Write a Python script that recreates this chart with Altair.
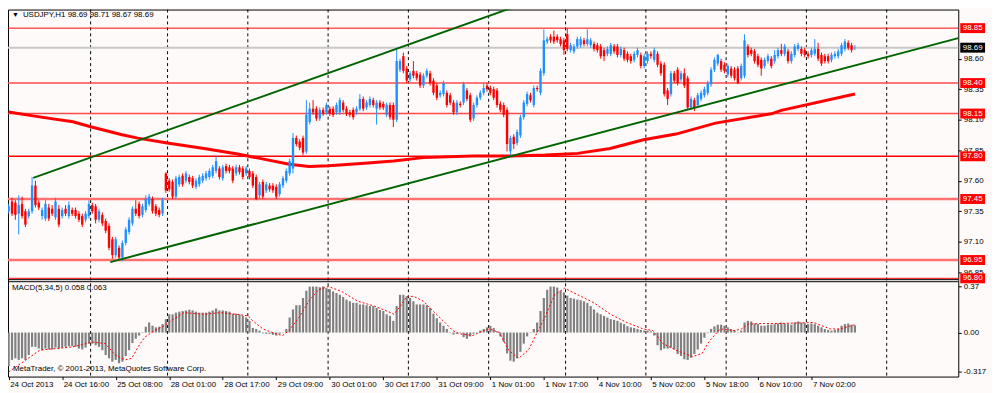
import altair as alt
import pandas as pd

# ---------------- data ----------------
OPEN = [
    97.35, 97.43, 97.42, 97.33, 97.41, 97.35, 97.31, 97.35, 97.56, 97.42,
    97.31, 97.29, 97.38, 97.37, 97.30, 97.37, 97.31, 97.37, 97.31, 97.36,
    97.36, 97.33, 97.31, 97.28, 97.31, 97.40, 97.39, 97.28, 97.32, 97.27,
    97.23, 97.12, 96.99, 97.05, 96.97, 97.09, 97.18, 97.25, 97.37, 97.41,
    97.32, 97.36, 97.41, 97.45, 97.39, 97.36, 97.33, 97.66, 97.60, 97.59,
    97.47, 97.57, 97.64, 97.60, 97.63, 97.62, 97.55, 97.57, 97.60, 97.62,
    97.63, 97.64, 97.68, 97.70, 97.62, 97.72, 97.71, 97.70, 97.66, 97.71,
    97.70, 97.66, 97.68, 97.66, 97.63, 97.48, 97.59, 97.52, 97.56, 97.56,
    97.55, 97.49, 97.56, 97.60, 97.66, 97.70, 97.95, 97.92, 97.95, 97.84,
    98.08, 98.19, 98.19, 98.11, 98.18, 98.16, 98.19, 98.19, 98.16, 98.16,
    98.24, 98.19, 98.16, 98.18, 98.16, 98.19, 98.27, 98.20, 98.22, 98.26,
    98.19, 98.24, 98.23, 98.14, 98.22, 98.22, 98.10, 98.51, 98.62, 98.52,
    98.43, 98.50, 98.48, 98.47, 98.38, 98.46, 98.48, 98.42, 98.38, 98.30,
    98.31, 98.32, 98.30, 98.24, 98.16, 98.23, 98.24, 98.34, 98.30, 98.11,
    98.22, 98.28, 98.32, 98.38, 98.36, 98.35, 98.34, 98.23, 98.22, 98.18,
    97.84, 97.96, 97.91, 97.97, 98.12, 98.23, 98.30, 98.22, 98.36, 98.32,
    98.48, 98.74, 98.78, 98.78, 98.78, 98.76, 98.75, 98.80, 98.67, 98.66,
    98.70, 98.71, 98.75, 98.72, 98.71, 98.72, 98.71, 98.70, 98.67, 98.64,
    98.64, 98.70, 98.70, 98.63, 98.67, 98.64, 98.62, 98.59, 98.63, 98.63,
    98.54, 98.58, 98.64, 98.59, 98.64, 98.56, 98.55, 98.34, 98.31, 98.48,
    98.51, 98.43, 98.48, 98.44, 98.20, 98.26, 98.22, 98.27, 98.30, 98.32,
    98.39, 98.51, 98.56, 98.58, 98.55, 98.47, 98.52, 98.51, 98.52, 98.44,
    98.46, 98.70, 98.67, 98.66, 98.62, 98.59, 98.54, 98.58, 98.60, 98.58,
    98.62, 98.67, 98.64, 98.66, 98.58, 98.63, 98.68, 98.68, 98.67, 98.64,
    98.63, 98.64, 98.68, 98.63, 98.62, 98.62, 98.59, 98.62, 98.62, 98.64,
    98.68, 98.73, 98.71, 98.69,
]
HIGH = [
    97.41, 97.46, 97.44, 97.48, 97.47, 97.37, 97.37, 97.63, 97.60, 97.44,
    97.38, 97.44, 97.41, 97.40, 97.46, 97.40, 97.38, 97.40, 97.43, 97.38,
    97.38, 97.35, 97.33, 97.35, 97.44, 97.42, 97.41, 97.37, 97.34, 97.29,
    97.25, 97.14, 97.14, 97.07, 97.11, 97.22, 97.30, 97.39, 97.44, 97.43,
    97.41, 97.48, 97.49, 97.47, 97.41, 97.38, 97.46, 97.67, 97.62, 97.61,
    97.64, 97.65, 97.66, 97.68, 97.65, 97.64, 97.62, 97.65, 97.66, 97.68,
    97.70, 97.73, 97.80, 97.72, 97.73, 97.74, 97.73, 97.72, 97.73, 97.73,
    97.72, 97.72, 97.70, 97.68, 97.65, 97.59, 97.61, 97.59, 97.58, 97.58,
    97.57, 97.59, 97.64, 97.70, 97.78, 97.99, 97.97, 97.94, 97.97, 98.26,
    98.24, 98.26, 98.21, 98.20, 98.20, 98.24, 98.21, 98.21, 98.24, 98.28,
    98.26, 98.21, 98.18, 98.20, 98.21, 98.31, 98.29, 98.26, 98.29, 98.28,
    98.26, 98.26, 98.25, 98.24, 98.24, 98.24, 98.69, 98.60, 98.65, 98.54,
    98.50, 98.58, 98.50, 98.49, 98.48, 98.52, 98.50, 98.44, 98.40, 98.34,
    98.42, 98.34, 98.32, 98.26, 98.26, 98.25, 98.41, 98.36, 98.32, 98.24,
    98.30, 98.34, 98.40, 98.40, 98.38, 98.37, 98.36, 98.25, 98.24, 98.20,
    97.97, 97.98, 98.02, 98.14, 98.26, 98.33, 98.32, 98.38, 98.38, 98.52,
    98.84, 98.78, 98.80, 98.83, 98.80, 98.78, 98.77, 98.85, 98.73, 98.72,
    98.78, 98.78, 98.77, 98.84, 98.77, 98.74, 98.73, 98.72, 98.69, 98.70,
    98.73, 98.72, 98.72, 98.70, 98.69, 98.66, 98.64, 98.66, 98.69, 98.65,
    98.64, 98.66, 98.66, 98.69, 98.66, 98.58, 98.57, 98.36, 98.50, 98.50,
    98.53, 98.50, 98.52, 98.46, 98.29, 98.28, 98.32, 98.34, 98.37, 98.42,
    98.53, 98.61, 98.64, 98.60, 98.57, 98.56, 98.54, 98.53, 98.54, 98.56,
    98.80, 98.72, 98.69, 98.68, 98.64, 98.61, 98.61, 98.64, 98.62, 98.67,
    98.69, 98.72, 98.72, 98.68, 98.66, 98.72, 98.73, 98.70, 98.69, 98.66,
    98.69, 98.76, 98.73, 98.65, 98.64, 98.64, 98.65, 98.66, 98.68, 98.73,
    98.76, 98.75, 98.73, 98.71,
]
LOW = [
    97.33, 97.31, 97.28, 97.16, 97.29, 97.22, 97.29, 97.33, 97.38, 97.36,
    97.28, 97.27, 97.27, 97.31, 97.28, 97.22, 97.29, 97.31, 97.29, 97.31,
    97.29, 97.26, 97.22, 97.26, 97.29, 97.33, 97.25, 97.26, 97.23, 97.17,
    97.03, 96.96, 96.97, 96.95, 96.94, 97.07, 97.16, 97.23, 97.31, 97.29,
    97.30, 97.34, 97.39, 97.33, 97.31, 97.30, 97.31, 97.50, 97.51, 97.45,
    97.45, 97.55, 97.55, 97.58, 97.57, 97.54, 97.53, 97.55, 97.58, 97.60,
    97.61, 97.62, 97.66, 97.61, 97.60, 97.66, 97.66, 97.58, 97.64, 97.65,
    97.61, 97.64, 97.61, 97.54, 97.44, 97.45, 97.45, 97.50, 97.51, 97.50,
    97.45, 97.47, 97.54, 97.58, 97.64, 97.66, 97.88, 97.85, 97.81, 97.82,
    98.06, 98.14, 98.09, 98.09, 98.13, 98.14, 98.13, 98.12, 98.14, 98.14,
    98.16, 98.13, 98.12, 98.10, 98.14, 98.17, 98.17, 98.18, 98.20, 98.20,
    98.06, 98.18, 98.18, 98.12, 98.10, 98.04, 98.08, 98.49, 98.48, 98.40,
    98.41, 98.44, 98.42, 98.36, 98.36, 98.44, 98.38, 98.30, 98.26, 98.28,
    98.29, 98.20, 98.22, 98.14, 98.14, 98.20, 98.22, 98.25, 98.08, 98.09,
    98.20, 98.26, 98.30, 98.33, 98.30, 98.26, 98.20, 98.16, 98.12, 97.84,
    97.80, 97.86, 97.89, 97.95, 98.10, 98.21, 98.24, 98.20, 98.33, 98.30,
    98.46, 98.72, 98.73, 98.72, 98.73, 98.70, 98.63, 98.66, 98.65, 98.64,
    98.68, 98.69, 98.70, 98.70, 98.69, 98.66, 98.65, 98.60, 98.58, 98.62,
    98.62, 98.64, 98.61, 98.61, 98.58, 98.57, 98.56, 98.57, 98.61, 98.52,
    98.52, 98.56, 98.60, 98.57, 98.53, 98.46, 98.29, 98.22, 98.29, 98.40,
    98.38, 98.41, 98.36, 98.18, 98.18, 98.17, 98.20, 98.25, 98.28, 98.30,
    98.37, 98.49, 98.54, 98.49, 98.48, 98.45, 98.44, 98.42, 98.39, 98.42,
    98.44, 98.61, 98.62, 98.56, 98.53, 98.46, 98.52, 98.56, 98.52, 98.56,
    98.60, 98.62, 98.62, 98.56, 98.56, 98.61, 98.66, 98.62, 98.61, 98.60,
    98.61, 98.62, 98.58, 98.54, 98.56, 98.56, 98.57, 98.60, 98.60, 98.62,
    98.66, 98.67, 98.65, 98.67,
]
CLOSE = [
    97.39, 97.33, 97.32, 97.40, 97.31, 97.24, 97.35, 97.56, 97.40, 97.38,
    97.36, 97.41, 97.29, 97.33, 97.43, 97.24, 97.36, 97.33, 97.40, 97.33,
    97.31, 97.28, 97.24, 97.33, 97.41, 97.35, 97.28, 97.35, 97.25, 97.19,
    97.05, 96.99, 97.12, 96.97, 97.09, 97.20, 97.28, 97.37, 97.33, 97.31,
    97.39, 97.45, 97.47, 97.35, 97.33, 97.32, 97.44, 97.52, 97.53, 97.47,
    97.62, 97.63, 97.57, 97.66, 97.59, 97.56, 97.60, 97.63, 97.64, 97.66,
    97.68, 97.71, 97.76, 97.63, 97.71, 97.68, 97.68, 97.60, 97.71, 97.67,
    97.63, 97.70, 97.63, 97.56, 97.45, 97.57, 97.47, 97.57, 97.53, 97.52,
    97.47, 97.57, 97.62, 97.68, 97.76, 97.95, 97.90, 97.87, 97.83, 98.14,
    98.19, 98.16, 98.11, 98.18, 98.15, 98.22, 98.15, 98.14, 98.22, 98.26,
    98.18, 98.15, 98.14, 98.12, 98.19, 98.27, 98.19, 98.24, 98.27, 98.22,
    98.24, 98.20, 98.20, 98.22, 98.12, 98.10, 98.58, 98.58, 98.50, 98.42,
    98.48, 98.46, 98.44, 98.38, 98.46, 98.50, 98.40, 98.32, 98.28, 98.32,
    98.40, 98.22, 98.24, 98.16, 98.24, 98.22, 98.39, 98.27, 98.10, 98.22,
    98.28, 98.32, 98.36, 98.35, 98.32, 98.28, 98.22, 98.18, 98.14, 97.90,
    97.95, 97.90, 98.00, 98.12, 98.24, 98.31, 98.26, 98.36, 98.35, 98.50,
    98.75, 98.76, 98.75, 98.74, 98.75, 98.72, 98.67, 98.68, 98.71, 98.70,
    98.76, 98.76, 98.72, 98.76, 98.75, 98.68, 98.67, 98.62, 98.62, 98.68,
    98.71, 98.66, 98.63, 98.68, 98.60, 98.59, 98.58, 98.64, 98.67, 98.54,
    98.62, 98.64, 98.62, 98.67, 98.55, 98.48, 98.31, 98.27, 98.48, 98.42,
    98.40, 98.48, 98.38, 98.20, 98.27, 98.20, 98.30, 98.32, 98.35, 98.40,
    98.51, 98.59, 98.63, 98.51, 98.50, 98.54, 98.46, 98.44, 98.40, 98.54,
    98.75, 98.63, 98.64, 98.58, 98.55, 98.52, 98.59, 98.62, 98.54, 98.63,
    98.67, 98.64, 98.70, 98.58, 98.64, 98.70, 98.71, 98.64, 98.63, 98.62,
    98.67, 98.68, 98.60, 98.56, 98.58, 98.58, 98.63, 98.64, 98.66, 98.71,
    98.74, 98.69, 98.67, 98.69,
]
MACD_HIST = [
    -0.270, -0.220, -0.207, -0.220, -0.207, -0.220, -0.181, -0.115, -0.115, -0.129,
    -0.142, -0.129, -0.136, -0.136, -0.121, -0.129, -0.121, -0.115, -0.110, -0.110,
    -0.115, -0.129, -0.136, -0.121, -0.089, -0.089, -0.102, -0.115, -0.142, -0.181,
    -0.207, -0.234, -0.220, -0.247, -0.234, -0.189, -0.142, -0.084, -0.050, -0.024,
    0.003, 0.047, 0.081, 0.055, 0.042, 0.047, 0.068, 0.108, 0.147, 0.147,
    0.160, 0.168, 0.173, 0.178, 0.184, 0.178, 0.168, 0.160, 0.160, 0.160,
    0.168, 0.178, 0.194, 0.178, 0.178, 0.173, 0.168, 0.152, 0.152, 0.147,
    0.134, 0.121, 0.094, 0.037, 0.029, 0.016, -0.005, -0.010, -0.010, -0.018,
    -0.024, -0.010, 0.003, 0.029, 0.121, 0.186, 0.220, 0.220, 0.278, 0.336,
    0.370, 0.370, 0.370, 0.365, 0.370, 0.357, 0.349, 0.331, 0.318, 0.304,
    0.286, 0.265, 0.252, 0.239, 0.239, 0.226, 0.226, 0.220, 0.213, 0.213,
    0.199, 0.181, 0.173, 0.147, 0.134, 0.094, 0.213, 0.304, 0.304, 0.291,
    0.278, 0.252, 0.226, 0.226, 0.226, 0.220, 0.199, 0.152, 0.115, 0.081,
    0.055, 0.029, 0.003, -0.016, -0.010, 0.003, -0.037, -0.050, -0.031, -0.010,
    0.003, 0.016, 0.029, 0.042, 0.055, 0.037, 0.010, -0.031, -0.076, -0.168,
    -0.226, -0.234, -0.207, -0.155, -0.089, -0.031, 0.003, 0.029, 0.081, 0.173,
    0.278, 0.344, 0.370, 0.370, 0.362, 0.336, 0.323, 0.297, 0.278, 0.273,
    0.265, 0.260, 0.252, 0.239, 0.213, 0.186, 0.160, 0.147, 0.134, 0.121,
    0.108, 0.102, 0.094, 0.079, 0.068, 0.052, 0.042, 0.037, 0.029, 0.021,
    0.016, 0.016, 0.010, -0.024, -0.102, -0.142, -0.129, -0.129, -0.121, -0.136,
    -0.173, -0.189, -0.215, -0.220, -0.202, -0.173, -0.136, -0.089, -0.042, -0.005,
    0.029, 0.050, 0.063, 0.063, 0.055, 0.042, 0.029, 0.016, 0.003, 0.016,
    0.081, 0.094, 0.089, 0.073, 0.068, 0.055, 0.055, 0.063, 0.063, 0.068,
    0.073, 0.081, 0.073, 0.068, 0.063, 0.081, 0.089, 0.081, 0.076, 0.068,
    0.073, 0.068, 0.055, 0.042, 0.029, 0.021, 0.016, 0.021, 0.029, 0.055,
    0.068, 0.073, 0.063, 0.058,
]
SIGNAL_BARS = [0, 9.3, 19.1, 25, 28.9, 31.9, 34.8, 36.8, 38.7, 40.7, 43.6, 46.6,
               48.5, 52.4, 58.3, 63.2, 68.1, 71.6, 73, 76, 79.9, 81.9, 83.8, 86.8,
               89.7, 92.6, 95.6, 99.5, 104.4, 109.3, 114.2, 115.2, 117.1, 119.1,
               121.1, 124, 126.9, 129.9, 132.8, 134.8, 138.7, 142.1, 143.6, 146.6,
               149.5, 152.4, 155.4, 157.3, 160.3, 163.2, 166.2, 170.1, 175, 179.9,
               184.8, 189.7, 192.6, 195.6, 199.5, 204.4, 207.3, 209.3, 212.7, 217.2,
               219.1, 221.1, 226, 230.9, 240.7, 245.6, 248.5, 253]
SIGNAL_VALUES = [-0.317, -0.142, -0.115, -0.076, -0.089, -0.181, -0.220, -0.207, -0.115,
                 -0.037, 0.016, 0.055, 0.094, 0.160, 0.147, 0.160, 0.147, 0.134, 0.094,
                 0.029, -0.010, -0.024, 0.016, 0.121, 0.252, 0.344, 0.370, 0.331, 0.252,
                 0.213, 0.160, 0.147, 0.213, 0.291, 0.291, 0.252, 0.173, 0.094, 0.016,
                 -0.010, -0.024, 0.016, 0.029, 0.003, -0.142, -0.207, -0.142, -0.037,
                 0.121, 0.304, 0.357, 0.304, 0.239, 0.147, 0.081, 0.029, 0.016, -0.089,
                 -0.142, -0.194, -0.168, -0.076, 0.029, 0.016, 0.029, 0.068, 0.073,
                 0.073, 0.081, 0.029, 0.029, 0.063]
MA_BARS = [0, 9.2, 19.2, 24.5, 33.9, 38.6, 47.4, 58.4, 68, 75.1, 83.9, 89.8, 95.7,
           105.4, 115.1, 123.9, 138.6, 150.4, 160.4, 170.1, 179.8, 189.8, 199.5,
           211.3, 228, 231, 253]
MA_VALUES = [98.163, 98.123, 98.083, 98.042, 97.976, 97.949, 97.909, 97.864, 97.821,
             97.783, 97.735, 97.717, 97.722, 97.741, 97.762, 97.789, 97.802, 97.802,
             97.810, 97.824, 97.864, 97.936, 97.982, 98.072, 98.148, 98.176, 98.310]

LEVELS = [98.85, 98.40, 98.15, 97.80, 97.45, 96.95, 96.80]
LEVEL_LABELS = ["98.85", "98.40", "98.15", "97.80", "97.45", "96.95", "96.80"]
LEVEL_COLORS = ["#FF0000", "#FF4A4A", "#FF4A4A", "#FF0000", "#FF7070", "#FF7070", "#FF0000"]
LEVEL_WIDTHS = [1, 1.5, 1.5, 1.5, 2.5, 2.5, 1]
CURRENT_PRICE = 98.69
CURRENT_LABEL = "98.69"
PRICE_TICKS = [98.60, 98.35, 98.10, 97.85, 97.60, 97.35, 97.10, 96.85]
MACD_TICKS = [0.37, 0.0, -0.317]
MACD_TICK_LABELS = ["0.37", "0.00", "-0.317"]
TIME_TICK_BARS = [0, 16, 32, 48, 64, 80, 96, 112, 128, 144, 160, 176, 192, 208, 224, 240]
TIME_TICK_LABELS = ["24 Oct 2013", "24 Oct 16:00", "25 Oct 08:00", "28 Oct 01:00",
                    "28 Oct 17:00", "29 Oct 09:00", "30 Oct 01:00", "30 Oct 17:00",
                    "31 Oct 09:00", "1 Nov 01:00", "1 Nov 17:00", "4 Nov 10:00",
                    "5 Nov 02:00", "5 Nov 18:00", "6 Nov 10:00", "7 Nov 02:00"]
DAY_BOUNDARIES = [24.5, 47.5, 71.5, 95.5, 119.5, 143.5, 166.5, 190.5, 214.5, 238.5, 262.5]
UPPER_TREND_BARS = [7.35, 160]
UPPER_TREND_PRICES = [97.623, 99.110]
LOWER_TREND_BARS = [30.4, 283.9]
LOWER_TREND_PRICES = [96.933, 98.768]

TITLE = "USDJPY,H1  98.69 98.71 98.67 98.69"
MACD_TITLE = "MACD(5,34,5) 0.058 0.063"
FOOTER = "MetaTrader, \u00a9 2001-2013, MetaQuotes Software Corp."

# ---------------- styling ----------------
FONT = "Liberation Sans"
BG = "#FFFAFA"
BLUE = "#1E90FF"
RED = "#FF0000"
GREEN = "#006400"
W, H = 958, 370
X_DOMAIN = [-0.2, 283.9]
PRICE_DOMAIN = [95.995, 99.0024]
MACD_DOMAIN = [-0.354, 2.598]
PANE_BOTTOM_PRICE = 96.789
MACD_TOP_VALUE = 0.409

xs = alt.Scale(domain=X_DOMAIN, nice=False, zero=False, padding=0)
ps = alt.Scale(domain=PRICE_DOMAIN, nice=False, zero=False, padding=0)
ms = alt.Scale(domain=MACD_DOMAIN, nice=False, zero=False, padding=0)

labels_js = "[" + ",".join("'" + s + "'" for s in TIME_TICK_LABELS) + "]"
bars_js = "[" + ",".join(str(b) for b in TIME_TICK_BARS) + "]"
x_axis = alt.Axis(values=TIME_TICK_BARS, labelExpr=f"{labels_js}[indexof({bars_js}, datum.value)]",
                  tickSize=3, tickColor="black", labelColor="black", labelFont=FONT,
                  labelFontSize=8, labelAlign="left", labelBaseline="top", labelPadding=1,
                  labelOffset=1, labelOverlap=False, labelFlush=False, domain=False,
                  grid=False, title=None)

price_axis = alt.Axis(orient="right", values=PRICE_TICKS, format=".2f", tickSize=3,
                      tickColor="black", labelColor="black", labelFont=FONT, labelFontSize=8,
                      labelPadding=2, labelBaseline="middle", domain=False, grid=False,
                      labelOverlap=False, labelFlush=False, title=None)

m_labels_js = "[" + ",".join("'" + s + "'" for s in MACD_TICK_LABELS) + "]"
m_vals_js = "[" + ",".join(str(v) for v in MACD_TICKS) + "]"
macd_axis = alt.Axis(orient="right", values=MACD_TICKS,
                     labelExpr=f"{m_labels_js}[indexof({m_vals_js}, datum.value)]",
                     tickSize=3, tickColor="black", labelColor="black", labelFont=FONT,
                     labelFontSize=8, labelPadding=2, labelBaseline="middle", domain=False,
                     grid=False, labelOverlap=False, labelFlush=False, title=None)


def XQ(field):
    return alt.X(f"{field}:Q", scale=xs, axis=x_axis, title=None)


def PY(field):
    return alt.Y(f"{field}:Q", scale=ps, axis=price_axis, title=None)


def MY(field):
    return alt.Y(f"{field}:Q", scale=ms, axis=macd_axis, title=None)


candles = pd.DataFrame({"bar": list(range(len(OPEN))), "open": OPEN, "high": HIGH,
                        "low": LOW, "close": CLOSE})
macd = pd.DataFrame({"bar": list(range(len(MACD_HIST))), "hist": MACD_HIST})
signal = pd.DataFrame({"bar": SIGNAL_BARS, "sig": SIGNAL_VALUES})
ma = pd.DataFrame({"bar": MA_BARS, "ma": MA_VALUES})
levels = pd.DataFrame({"level": LEVELS, "label": LEVEL_LABELS, "color": LEVEL_COLORS,
                       "w": LEVEL_WIDTHS})
current = pd.DataFrame({"level": [CURRENT_PRICE], "label": [CURRENT_LABEL]})
days = pd.DataFrame({"bar": DAY_BOUNDARIES})
upper = pd.DataFrame({"bar": UPPER_TREND_BARS, "p": UPPER_TREND_PRICES})
lower = pd.DataFrame({"bar": LOWER_TREND_BARS, "p": LOWER_TREND_PRICES})

# ---------------- price pane ----------------
grid = alt.Chart(days).mark_rule(color="black", strokeWidth=1, strokeDash=[3, 3]).encode(
    x=XQ("bar"))

level_rules = alt.Chart(levels).mark_rule().encode(
    y=PY("level"),
    color=alt.Color("color:N", scale=None),
    strokeWidth=alt.StrokeWidth("w:Q", scale=None))

current_rule = alt.Chart(current).mark_rule(color="#C8C8C8", strokeWidth=2).encode(
    y=PY("level"))

ma_line = alt.Chart(ma).mark_line(color=RED, strokeWidth=3).encode(x=XQ("bar"), y=PY("ma"))

candle_color = alt.condition("datum.close >= datum.open", alt.value(BLUE), alt.value(RED))
wicks = alt.Chart(candles).mark_rule(strokeWidth=1).encode(
    x=XQ("bar"), y=PY("low"), y2="high", color=candle_color)
bodies = alt.Chart(candles).mark_bar(size=2.4).encode(
    x=XQ("bar"), y=PY("open"), y2="close", color=candle_color)

upper_line = alt.Chart(upper).mark_line(color=GREEN, strokeWidth=2, clip=True).encode(
    x=XQ("bar"), y=PY("p"))
lower_line = alt.Chart(lower).mark_line(color=GREEN, strokeWidth=2, clip=True).encode(
    x=XQ("bar"), y=PY("p"))

pane_bottom = alt.Chart(pd.DataFrame({"v": [PANE_BOTTOM_PRICE]})).mark_rule(
    color="black", strokeWidth=1).encode(y=PY("v"))

level_boxes = alt.Chart(levels).mark_tick(orient="horizontal", size=25, thickness=10,
                                           color=RED, opacity=1).encode(
    x=alt.value(972.5), y=PY("level"))
level_text = alt.Chart(levels).mark_text(align="left", baseline="middle", color="white",
                                         font=FONT, fontSize=8).encode(
    x=alt.value(962.5), y=PY("level"), text="label:N")
current_box = alt.Chart(current).mark_tick(orient="horizontal", size=25, thickness=10,
                                            color="black", opacity=1).encode(
    x=alt.value(972.5), y=PY("level"))
current_text = alt.Chart(current).mark_text(align="left", baseline="middle", color="white",
                                            font=FONT, fontSize=8).encode(
    x=alt.value(962.5), y=PY("level"), text="label:N")

price_group = alt.layer(grid, level_rules, current_rule, ma_line, wicks, bodies,
                        upper_line, lower_line, pane_bottom, level_boxes, level_text,
                        current_box, current_text)

# ---------------- MACD pane ----------------
macd_top = alt.Chart(pd.DataFrame({"v": [MACD_TOP_VALUE]})).mark_rule(
    color="black", strokeWidth=1).encode(y=MY("v"))
hist = alt.Chart(macd).mark_bar(size=2.2, color="#808080").encode(
    x=XQ("bar"), y=MY("hist"), y2=alt.datum(0))
sig_line = alt.Chart(signal).mark_line(color=RED, strokeWidth=1, strokeDash=[2, 2]).encode(
    x=XQ("bar"), y=MY("sig"))

macd_group = alt.layer(macd_top, hist, sig_line)


# ---------------- texts ----------------
def label(text, x, y, size=8, color="black"):
    return alt.Chart(pd.DataFrame({"t": [text]})).mark_text(
        align="left", baseline="middle", font=FONT, fontSize=size, color=color).encode(
        x=alt.value(x), y=alt.value(y), text="t:N")


tri = label("\u25bc", 4, 6, size=7)
title = label(TITLE, 15, 6)
macd_title = label(MACD_TITLE, 4, 281)
footer = label(FOOTER, 5, 362)

chart = alt.layer(price_group, macd_group, tri, title, macd_title, footer).resolve_scale(
    y="independent"
).properties(
    width=W, height=H,
    autosize=alt.AutoSizeParams(type="none"),
    padding={"left": 0, "top": 0, "right": 34, "bottom": 15},
    background=BG,
).configure_view(stroke="black", strokeWidth=1)

chart.save("out.html", embed_options={"renderer": "svg", "actions": False})
